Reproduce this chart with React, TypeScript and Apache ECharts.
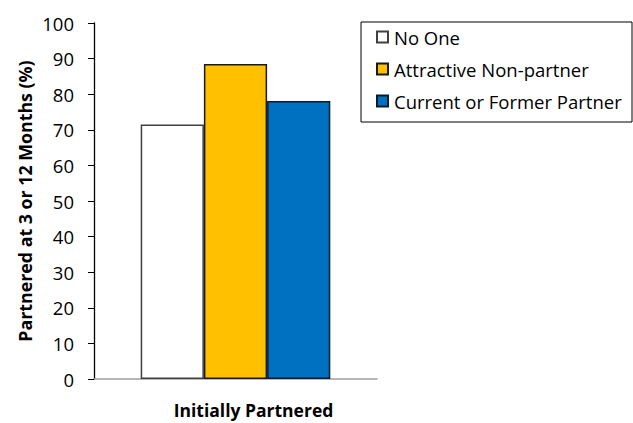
import React, { useEffect, useRef } from "react";
import * as echarts from "echarts";

const categories = ["Initially Partnered"];
const seriesNames = ["No One", "Attractive Non-partner", "Current or Former Partner"];
const noOne = [71.5];
const attractive = [88.5];
const currentFormer = [78.1];
const yTicks = [0, 10, 20, 30, 40, 50, 60, 70, 80, 90, 100];

const FONT = "'Open Sans', sans-serif";

export default function App() {
  const ref = useRef<HTMLDivElement>(null);
  useEffect(() => {
    if (!ref.current) return;
    const chart = echarts.init(ref.current, undefined, { renderer: "svg" });
    const colors = ["#FFFFFF", "#FFC000", "#0070C0"];
    const borders = ["#404040", "#1a1a1a", "#0a1a2a"];
    const data = [noOne, attractive, currentFormer];
    chart.setOption({
      animation: false,
      backgroundColor: "#ffffff",
      textStyle: { fontFamily: FONT },
      grid: { left: 94, right: 256, top: 23, bottom: 44, containLabel: false },
      graphic: [
        {
          type: "rect",
          shape: { x: 361, y: 22, width: 271, height: 100 },
          style: { fill: "none", stroke: "#000", lineWidth: 1 },
          silent: true,
        },
      ],
      legend: {
        orient: "vertical",
        left: 376,
        top: 27,
        itemWidth: 11,
        itemHeight: 11,
        itemGap: 12,
        icon: "rect",
        padding: 0,
        textStyle: { fontFamily: FONT, fontSize: 18.5, color: "#000", lineHeight: 20, padding: [0, 0, 0, 1] },
        data: seriesNames,
      },
      xAxis: {
        type: "category",
        data: categories,
        axisLine: { lineStyle: { color: "#a0a0a0", width: 1.5 } },
        axisTick: { show: false },
        axisLabel: {
          color: "#000",
          fontWeight: "bold",
          fontSize: 17.5,
          margin: 22,
          fontFamily: FONT,
          padding: [0, 0, 0, 36],
        },
      },
      yAxis: {
        type: "value",
        min: yTicks[0],
        max: yTicks[yTicks.length - 1],
        interval: 10,
        name: "Partnered at 3 or 12 Months (%)",
        nameLocation: "middle",
        nameGap: 60,
        nameTextStyle: { color: "#000", fontWeight: "bold", fontSize: 17.8, fontFamily: FONT },
        axisLine: { show: true, lineStyle: { color: "#000", width: 1.3 } },
        axisTick: { show: true, length: 6, lineStyle: { color: "#000" } },
        splitLine: { show: false },
        axisLabel: { color: "#000", fontSize: 18.5, margin: 20, fontFamily: FONT },
      },
      series: seriesNames.map((name, i) => ({
        name,
        type: "bar",
        data: data[i],
        barGap: "0%",
        barCategoryGap: "33%",
        itemStyle: { color: colors[i], borderColor: borders[i], borderWidth: 1.5 },
      })),
    });
    return () => chart.dispose();
  }, []);
  return <div ref={ref} style={{ width: 633, height: 423, position: "absolute", left: 0, top: 0 }} />;
}
